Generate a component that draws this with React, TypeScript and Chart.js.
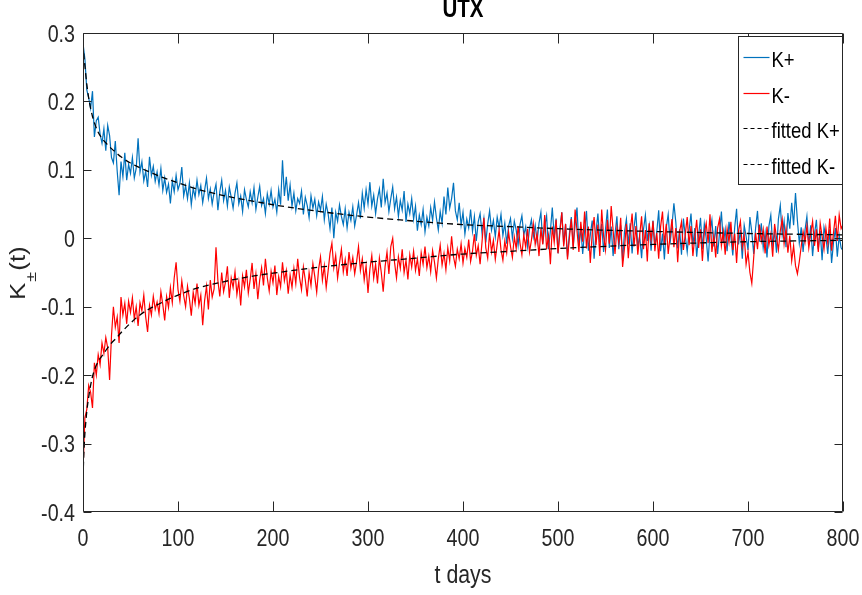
import { useEffect, useRef } from 'react';
import { Chart, registerables } from 'chart.js';

Chart.register(...registerables);

const TITLE = 'UTX';
const X_LABEL = 't days';
const Y_LABEL_MAIN = 'K';
const Y_LABEL_SUB = '±';
const Y_LABEL_TAIL = '(t)';
const LEGEND_LABELS = ['K+', 'K-', 'fitted K+', 'fitted K-'];

const X_MIN = 0;
const X_MAX = 800;
const X_STEP = 100;
const Y_MIN = -0.4;
const Y_MAX = 0.3;
const Y_STEP = 0.1;

// one observation every DAY_STEP days, starting at day 0
const DAY_STEP = 2;

const K_PLUS = [
  0.285, 0.262, 0.217, 0.205, 0.19, 0.215, 0.148, 0.172, 0.177, 0.152, 0.139, 0.16, 0.128, 0.165, 0.15, 0.118, 0.11, 0.142, 0.098, 0.063,
  0.112, 0.09, 0.125, 0.085, 0.108, 0.095, 0.118, 0.088, 0.102, 0.146, 0.097, 0.112, 0.084, 0.098, 0.075, 0.119, 0.092, 0.105, 0.083, 0.097,
  0.078, 0.102, 0.07, 0.088, 0.067, 0.079, 0.051, 0.084, 0.068, 0.092, 0.071, 0.08, 0.104, 0.062, 0.077, 0.058, 0.081, 0.049, 0.073, 0.06,
  0.085, 0.064, 0.077, 0.052, 0.07, 0.088, 0.058, 0.072, 0.05, 0.067, 0.079, 0.041, 0.068, 0.085, 0.055, 0.07, 0.047, 0.075, 0.06, 0.044,
  0.066, 0.081, 0.05, 0.062, 0.039, 0.071, 0.057, 0.046, 0.068, 0.052, 0.074, 0.042, 0.06, 0.076, 0.048, 0.058, 0.036, 0.065, 0.05, 0.07,
  0.046, 0.057, 0.038, 0.071, 0.049, 0.114, 0.062, 0.09, 0.055, 0.078, 0.047, 0.066, 0.04, 0.058, 0.051, 0.069, 0.035, 0.06, 0.048, 0.03,
  0.062, 0.044, 0.057, 0.033, 0.053, 0.041, 0.061, 0.027, 0.05, 0.036, 0.014, 0.045, 0.0, 0.038, 0.025, 0.049, 0.032, 0.02, 0.043, 0.015,
  0.038, 0.026, 0.046, 0.018, 0.034, 0.052, 0.029, 0.066, 0.044, 0.071, 0.05, 0.082, 0.047, 0.063, 0.036, 0.058, 0.072, 0.045, 0.087, 0.052,
  0.066, 0.039, 0.058, 0.075, 0.043, 0.06, 0.032, 0.055, 0.041, 0.069, 0.024, 0.05, 0.036, 0.058, 0.028, 0.047, 0.011, 0.034, 0.02, 0.042,
  0.009, 0.031, 0.018, 0.045, 0.026, 0.053, 0.03, 0.012, 0.039, 0.022, 0.061, 0.035, 0.074, 0.044, 0.058, 0.081, 0.04, 0.027, 0.052, 0.019,
  0.038, 0.006, 0.028, 0.015, 0.042, 0.01, 0.032, -0.004, 0.024, 0.036, 0.008, 0.029, -0.006, 0.021, 0.04, 0.012, 0.026, 0.002, 0.031, 0.016,
  0.035, 0.004, 0.022, -0.008, 0.018, 0.029, 0.0, 0.025, 0.012, -0.01, 0.02, 0.033, 0.005, 0.017, -0.012, 0.014, 0.027, 0.002, 0.019, -0.005,
  0.022, 0.038, -0.008, 0.018, 0.033, -0.016, 0.011, 0.045, 0.002, 0.029, -0.022, 0.014, 0.038, -0.009, 0.021, -0.027, 0.007, 0.031, -0.012, 0.019,
  0.045, -0.011, 0.016, -0.023, 0.012, 0.04, -0.018, 0.005, 0.026, -0.03, 0.009, 0.036, -0.006, 0.021, -0.02, 0.013, 0.042, -0.014, 0.017, -0.026,
  0.006, 0.032, -0.016, 0.019, -0.033, 0.01, 0.028, -0.009, 0.022, -0.022, 0.015, 0.038, -0.013, 0.003, -0.029, 0.013, 0.034, -0.004, 0.018, -0.018,
  0.026, -0.012, 0.01, 0.041, -0.019, 0.007, -0.031, 0.016, 0.035, -0.007, 0.019, 0.051, 0.024, -0.015, 0.013, -0.024, 0.029, 0.003, -0.02, 0.012,
  0.036, -0.01, 0.015, -0.027, 0.004, 0.03, -0.016, 0.021, 0.0, -0.034, 0.01, 0.027, -0.012, 0.018, -0.023, 0.007, 0.039, -0.007, 0.013, -0.019,
  0.024, 0.002, -0.025, 0.016, 0.043, -0.009, 0.012, -0.03, 0.019, 0.003, -0.017, 0.031, 0.009, -0.023, 0.015, 0.04, -0.005, 0.022, -0.014, 0.008,
  -0.028, 0.018, 0.034, -0.01, 0.01, -0.021, 0.028, 0.048, 0.005, 0.025, -0.013, 0.037, 0.014, 0.052, 0.019, 0.066, 0.026, -0.007, 0.016, -0.02,
  0.012, 0.032, -0.01, 0.019, -0.026, 0.006, 0.027, -0.016, 0.011, -0.032, 0.016, 0.002, -0.023, 0.013, -0.036, -0.006, 0.015, -0.027, 0.004, -0.014,
  -0.018,
];

const K_MINUS = [
  -0.34, -0.262, -0.25, -0.215, -0.225, -0.248, -0.182, -0.2, -0.17, -0.185, -0.153, -0.168, -0.145, -0.16, -0.207, -0.142, -0.1, -0.13, -0.115, -0.153,
  -0.086, -0.112, -0.095, -0.125, -0.092, -0.108, -0.087, -0.118, -0.1, -0.128, -0.094, -0.106, -0.083, -0.115, -0.137, -0.098, -0.112, -0.085, -0.104, -0.093,
  -0.11, -0.078, -0.097, -0.12, -0.085, -0.101, -0.072, -0.094, -0.058, -0.035, -0.075, -0.092, -0.062, -0.084, -0.1, -0.07, -0.088, -0.113, -0.079, -0.095,
  -0.066, -0.098, -0.083, -0.127, -0.091, -0.07, -0.104, -0.061, -0.086, -0.074, -0.013, -0.062, -0.085, -0.05, -0.078, -0.064, -0.041, -0.087, -0.058, -0.072,
  -0.049, -0.082, -0.063, -0.098, -0.055, -0.071, -0.046, -0.08, -0.06, -0.036, -0.074, -0.052, -0.089, -0.061, -0.043, -0.069, -0.03, -0.058, -0.077, -0.048,
  -0.065, -0.04, -0.083, -0.056, -0.071, -0.035, -0.062, -0.047, -0.081, -0.054, -0.072, -0.044, -0.066, -0.03, -0.058, -0.075, -0.042, -0.061, -0.085, -0.05,
  -0.069, -0.037, -0.056, -0.079, -0.045, -0.027, -0.061, -0.04, -0.072, -0.048, -0.022, -0.007, -0.043, -0.025, -0.058, -0.036, -0.016, -0.049, -0.031, -0.055,
  -0.02, -0.044, -0.028, -0.052, -0.034, -0.012, -0.047, -0.03, -0.061, -0.04, -0.08, -0.045, -0.025, -0.058, -0.038, -0.066, -0.029, -0.05, -0.078, -0.041,
  -0.02, -0.052, -0.012, 0.0, -0.036, -0.058, -0.027, -0.044, -0.016, -0.05, -0.032, -0.06, -0.024, -0.042, -0.019, -0.047, -0.03, -0.055, -0.021, -0.038,
  -0.012, -0.043, -0.026, -0.049, -0.018, -0.035, -0.058, -0.03, -0.01, -0.039, -0.022, -0.046, -0.014, -0.033, 0.003, -0.027, -0.041, -0.016, -0.03, -0.008,
  -0.036, -0.015, -0.028, -0.002, -0.034, -0.019, 0.006, -0.025, -0.011, -0.038, -0.006, 0.03, -0.014, -0.029, 0.008, -0.02, -0.003, -0.031, -0.009, 0.012,
  -0.017, -0.032, -0.004, -0.021, 0.009, -0.012, -0.028, 0.002, -0.015, 0.018, -0.007, -0.024, 0.005, -0.013, 0.014, -0.02, -0.003, 0.021, -0.009, 0.007,
  -0.026, 0.014, -0.009, 0.034, -0.016, 0.004, -0.038, 0.017, -0.006, 0.027, -0.022, 0.008, 0.038, -0.012, 0.021, -0.031, 0.001, 0.028, -0.017, 0.042,
  0.011, -0.02, 0.024, -0.005, 0.039, -0.015, 0.017, -0.036, 0.007, 0.031, -0.01, 0.02, -0.026, 0.042, 0.003, -0.017, 0.027, -0.008, 0.047, 0.012,
  -0.023, 0.015, -0.006, 0.03, -0.042, -0.014, 0.021, -0.029, 0.01, 0.036, -0.012, 0.018, -0.024, 0.005, 0.032, -0.016, 0.012, -0.034, 0.022, -0.003,
  0.025, -0.019, 0.008, -0.03, 0.017, 0.039, -0.009, 0.021, -0.023, 0.004, 0.028, -0.013, 0.015, -0.035, 0.01, 0.024, -0.017, 0.006, 0.031, -0.01,
  0.018, -0.026, 0.003, 0.027, -0.014, 0.013, -0.033, 0.008, 0.022, -0.007, 0.035, -0.02, 0.004, -0.028, 0.015, 0.028, -0.011, 0.01, -0.024, 0.014,
  -0.006, 0.024, -0.017, 0.007, -0.036, 0.011, 0.025, -0.013, 0.004, -0.038, -0.02, -0.05, -0.066, -0.028, 0.008, -0.016, 0.02, -0.004, 0.013, -0.022,
  0.017, -0.01, 0.006, -0.027, 0.021, 0.001, -0.017, 0.011, 0.028, -0.008, 0.014, -0.021, 0.004, -0.033, -0.011, -0.04, -0.052, -0.034, -0.012, 0.01,
  -0.006, 0.018, -0.014, 0.007, 0.025, -0.011, 0.013, -0.02, 0.022, 0.003, -0.016, 0.015, -0.007, 0.029, -0.018, 0.008, 0.033, -0.004, 0.034, 0.014,
  0.02,
];

const FIT_DAYS = [0, 1, 2, 3, 4, 6, 8, 10, 13, 16, 20, 25, 30, 35, 40, 50, 60, 70, 80, 90, 100, 120, 140, 160, 180, 200, 250, 300, 350, 400, 450, 500, 600, 700, 800];
const FIT_PLUS = [0.285, 0.265, 0.252, 0.238, 0.225, 0.205, 0.19, 0.178, 0.165, 0.155, 0.146, 0.138, 0.131, 0.125, 0.119, 0.11, 0.103, 0.097, 0.091, 0.086, 0.081, 0.072, 0.065, 0.059, 0.054, 0.049, 0.039, 0.031, 0.025, 0.02, 0.017, 0.014, 0.01, 0.007, 0.005];
const FIT_MINUS = [-0.35, -0.31, -0.285, -0.268, -0.253, -0.232, -0.215, -0.202, -0.189, -0.18, -0.172, -0.162, -0.153, -0.146, -0.138, -0.124, -0.112, -0.103, -0.096, -0.089, -0.083, -0.073, -0.066, -0.06, -0.055, -0.051, -0.042, -0.035, -0.029, -0.023, -0.019, -0.015, -0.009, -0.005, -0.003];

const BLUE = '#0072BD';
const RED = '#FF0000';
const FIT_COLOR = '#000000';
const AXIS_COLOR = '#262626';
const FIT_DASH = [6, 4];
const LEGEND_COLORS = [BLUE, RED, FIT_COLOR, FIT_COLOR];
const LEGEND_DASHES: number[][] = [[], [], [4, 3], [4, 3]];
const FONT = '"Liberation Sans", Arial, Helvetica, sans-serif';
const SQUISH = 0.82;

function squishText(ctx: CanvasRenderingContext2D, text: string, x: number, y: number, align: CanvasTextAlign) {
  ctx.save();
  ctx.translate(x, y);
  ctx.scale(SQUISH, 1);
  ctx.textAlign = align;
  ctx.fillText(text, 0, 0);
  ctx.restore();
}

const decorPlugin = {
  id: 'matlabDecor',
  afterDraw(chart: any) {
    const { ctx, chartArea: a, scales } = chart;
    const xs = scales.x;
    const ys = scales.y;
    ctx.save();

    // axes box and inward ticks
    ctx.strokeStyle = AXIS_COLOR;
    ctx.lineWidth = 1;
    const L = Math.round(a.left) + 0.5;
    const R = Math.round(a.right) - 0.5;
    const T = Math.round(a.top) + 0.5;
    const B = Math.round(a.bottom) - 0.5;
    ctx.beginPath();
    ctx.rect(L, T, R - L, B - T);
    xs.ticks.forEach((t: any) => {
      const p = Math.round(xs.getPixelForValue(t.value)) + 0.5;
      ctx.moveTo(p, B); ctx.lineTo(p, B - 10);
      ctx.moveTo(p, T); ctx.lineTo(p, T + 10);
    });
    ys.ticks.forEach((t: any) => {
      const p = Math.round(ys.getPixelForValue(t.value)) + 0.5;
      ctx.moveTo(L, p); ctx.lineTo(L + 8, p);
      ctx.moveTo(R, p); ctx.lineTo(R - 8, p);
    });
    ctx.stroke();

    // tick labels
    ctx.fillStyle = AXIS_COLOR;
    ctx.font = `24px ${FONT}`;
    ctx.textBaseline = 'alphabetic';
    xs.ticks.forEach((t: any) => {
      const p = xs.getPixelForValue(t.value);
      squishText(ctx, String(Math.round(t.value)), p, a.bottom + 34, 'center');
    });
    ys.ticks.forEach((t: any) => {
      const p = ys.getPixelForValue(t.value);
      const n = Math.round(Number(t.value) * 10) / 10;
      squishText(ctx, n === 0 ? '0' : String(n), a.left - 8, p + 8.5, 'right');
    });

    // title
    ctx.fillStyle = '#000000';
    ctx.font = `bold 25px ${FONT}`;
    squishText(ctx, TITLE, (a.left + a.right) / 2, 17, 'center');

    // x label
    ctx.fillStyle = AXIS_COLOR;
    ctx.font = `26px ${FONT}`;
    squishText(ctx, X_LABEL, (a.left + a.right) / 2, 583, 'center');

    // y label with subscript
    ctx.save();
    ctx.translate(25, 300);
    ctx.rotate(-Math.PI / 2);
    ctx.scale(1, SQUISH);
    ctx.textAlign = 'left';
    ctx.font = `26px ${FONT}`;
    ctx.fillText(Y_LABEL_MAIN, 0, 0);
    let off = ctx.measureText(Y_LABEL_MAIN).width + 1;
    ctx.font = `18px ${FONT}`;
    ctx.fillText(Y_LABEL_SUB, off, 14);
    off += ctx.measureText(Y_LABEL_SUB).width + 1;
    ctx.font = `26px ${FONT}`;
    ctx.fillText(Y_LABEL_TAIL, off, 0);
    ctx.restore();

    // legend
    const bx = Math.round(a.right) - 104.5;
    const by = Math.round(a.top) + 3.5;
    const bw = 104;
    const bh = 148;
    ctx.fillStyle = '#ffffff';
    ctx.fillRect(bx, by, bw, bh);
    ctx.strokeStyle = AXIS_COLOR;
    ctx.lineWidth = 1;
    ctx.strokeRect(bx, by, bw, bh);
    ctx.font = `22.5px ${FONT}`;
    ctx.textBaseline = 'alphabetic';
    LEGEND_LABELS.forEach((label, i) => {
      const y = by + 20.5 + i * 35.5;
      ctx.save();
      ctx.strokeStyle = LEGEND_COLORS[i];
      ctx.lineWidth = 1.2;
      ctx.setLineDash(LEGEND_DASHES[i]);
      ctx.beginPath();
      ctx.moveTo(bx + 5, Math.round(y) + 0.5);
      ctx.lineTo(bx + 31, Math.round(y) + 0.5);
      ctx.stroke();
      ctx.restore();
      ctx.fillStyle = '#000000';
      squishText(ctx, label, bx + 33, y + 10, 'left');
    });

    ctx.restore();
  },
};

export default function App() {
  const canvasRef = useRef<HTMLCanvasElement | null>(null);

  useEffect(() => {
    const canvas = canvasRef.current;
    if (!canvas) return;
    const chart = new Chart(canvas, {
      type: 'line',
      data: {
        datasets: [
          {
            label: LEGEND_LABELS[0],
            data: K_PLUS.map((y, i) => ({ x: i * DAY_STEP, y })),
            borderColor: BLUE,
            borderWidth: 1.2,
            pointRadius: 0,
            tension: 0,
            order: 3,
          },
          {
            label: LEGEND_LABELS[1],
            data: K_MINUS.map((y, i) => ({ x: i * DAY_STEP, y })),
            borderColor: RED,
            borderWidth: 1.2,
            pointRadius: 0,
            tension: 0,
            order: 2,
          },
          {
            label: LEGEND_LABELS[2],
            data: FIT_DAYS.map((x, i) => ({ x, y: FIT_PLUS[i] })),
            borderColor: FIT_COLOR,
            borderWidth: 1.3,
            borderDash: FIT_DASH,
            pointRadius: 0,
            cubicInterpolationMode: 'monotone',
            order: 1,
          },
          {
            label: LEGEND_LABELS[3],
            data: FIT_DAYS.map((x, i) => ({ x, y: FIT_MINUS[i] })),
            borderColor: FIT_COLOR,
            borderWidth: 1.3,
            borderDash: FIT_DASH,
            pointRadius: 0,
            cubicInterpolationMode: 'monotone',
            order: 0,
          },
        ],
      },
      options: {
        responsive: false,
        maintainAspectRatio: false,
        devicePixelRatio: 1,
        animation: false,
        layout: { padding: { top: 33, right: 19, left: 0, bottom: 0 } },
        plugins: {
          legend: { display: false },
          title: { display: false },
          tooltip: { enabled: false },
        },
        scales: {
          x: {
            type: 'linear',
            min: X_MIN,
            max: X_MAX,
            afterFit: (s: any) => { s.height = 83; },
            grid: { display: false, drawTicks: false },
            border: { display: false },
            ticks: {
              stepSize: X_STEP,
              autoSkip: false,
              maxRotation: 0,
              color: 'rgba(0,0,0,0)',
              font: { family: FONT, size: 1 },
            },
          },
          y: {
            type: 'linear',
            min: Y_MIN,
            max: Y_MAX,
            afterFit: (s: any) => { s.width = 83; },
            grid: { display: false, drawTicks: false },
            border: { display: false },
            ticks: {
              stepSize: Y_STEP,
              autoSkip: false,
              color: 'rgba(0,0,0,0)',
              font: { family: FONT, size: 1 },
            },
          },
        },
      },
      plugins: [decorPlugin],
    });
    return () => chart.destroy();
  }, []);

  return (
    <div style={{ position: 'absolute', left: 0, top: 0, width: 862, height: 595 }}>
      <canvas ref={canvasRef} width={862} height={595} style={{ display: 'block', width: 862, height: 595 }} />
    </div>
  );
}
